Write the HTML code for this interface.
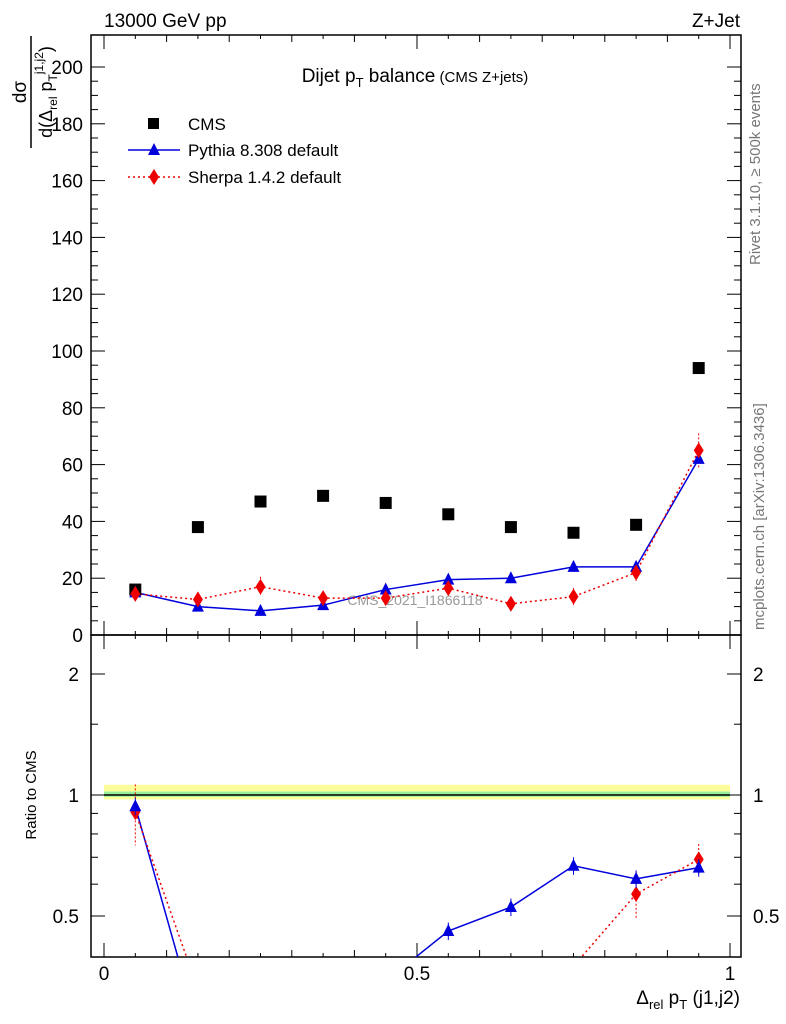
<!DOCTYPE html>
<html><head><meta charset="utf-8"><style>
html,body{margin:0;background:#fff;overflow:hidden}
svg{display:block}
svg text{font-family:"Liberation Sans",sans-serif}
</style></head><body>
<svg id="c" width="786" height="1024" viewBox="0 0 786 1024" xmlns="http://www.w3.org/2000/svg">
<text x="104" y="27" font-size="19">13000 GeV pp</text>
<text x="740" y="27" font-size="19" text-anchor="end">Z+Jet</text>
<text x="415" y="82" font-size="19" text-anchor="middle">Dijet p<tspan font-size="13" dy="5">T</tspan><tspan dy="-5"> balance</tspan><tspan font-size="15"> (CMS Z+jets)</tspan></text>
<g transform="translate(34,92) rotate(-90)">
<text x="0" y="-8" font-size="19" text-anchor="middle">dσ</text>
<line x1="-56" y1="-3" x2="56" y2="-3" stroke="#000" stroke-width="1.5"/>
<text x="0" y="18" font-size="18" text-anchor="middle">d(Δ<tspan font-size="12" dy="5">rel</tspan><tspan dy="-5"> p</tspan><tspan font-size="12" dy="5">T</tspan><tspan font-size="12" dy="-14">j1,j2</tspan><tspan dy="9">)</tspan></text>
</g>
<text transform="translate(760,265) rotate(-90)" font-size="15" fill="#777">Rivet 3.1.10, ≥ 500k events</text>
<text transform="translate(764,630) rotate(-90)" font-size="15" fill="#777">mcplots.cern.ch [arXiv:1306.3436]</text>
<text x="415" y="605" font-size="14" fill="#999" text-anchor="middle">CMS_2021_I1866118</text>
<text transform="translate(36,795) rotate(-90)" font-size="15" text-anchor="middle">Ratio to CMS</text>
<text x="740" y="1004" font-size="19" text-anchor="end">Δ<tspan font-size="13" dy="5">rel</tspan><tspan dy="-5"> p</tspan><tspan font-size="13" dy="5">T</tspan><tspan dy="-5"> (j1,j2)</tspan></text>
<g id="g"></g>
</svg>
<script>
const xCenters=[0.05,0.15,0.25,0.35,0.45,0.55,0.65,0.75,0.85,0.95];
const cmsVals=[16,38,47,49,46.5,42.5,38,36,38.8,94];
const pythiaVals=[15,10,8.5,10.5,16,19.5,20,24,24,62];
const sherpaVals=[14.5,12.5,17,13,13,16.5,11,13.5,22,65];
const sherpaErr=[2.5,2.5,3.5,2.5,2,2.5,2.5,3,3,6];
const yTicks=[0,20,40,60,80,100,120,140,160,180,200];
const rTicks=[0.5,1,2];
const xTicks=[0,0.5,1];
const NS="http://www.w3.org/2000/svg",g=document.getElementById('g');
const L=91,R=741,T=35,MB=635,RB=957;
const X=v=>104+v*626, Y=v=>635-v*2.84, RY=v=>795-121*Math.log2(v);
const RMIN=0.395,RMAX=2.5;
function el(t,a,p){const e=document.createElementNS(NS,t);for(const k in a)e.setAttribute(k,a[k]);(p||g).appendChild(e);return e;}
const clip=el('clipPath',{id:'rc'});el('rect',{x:L,y:MB,width:R-L,height:RB-MB},clip);
const b1=el('rect',{x:X(0),y:RY(1.06),width:X(1)-X(0),height:RY(0.975)-RY(1.06),fill:'#ffff99'});


const b2=el('rect',{x:X(0),y:RY(1.02),width:X(1)-X(0),height:RY(0.99)-RY(1.02),fill:'#99ee99'});


el('line',{x1:X(0),x2:X(1),y1:RY(1),y2:RY(1),stroke:'#000','stroke-width':1.5});
const f1=el('rect',{x:L,y:T,width:R-L,height:MB-T,fill:'none',stroke:'#000','stroke-width':1.5});


const f2=el('rect',{x:L,y:MB,width:R-L,height:RB-MB,fill:'none',stroke:'#000','stroke-width':1.5});


yTicks.forEach(v=>{const y=Y(v);el('line',{x1:L,x2:L+14,y1:y,y2:y,stroke:'#000'});el('line',{x1:R,x2:R-14,y1:y,y2:y,stroke:'#000'});
 const t=el('text',{x:L-8,y:y+7,'font-size':19,'text-anchor':'end'});t.textContent=v;
 
 
 if(v<200){for(let k=1;k<4;k++){const yy=Y(v+5*k);el('line',{x1:L,x2:L+7,y1:yy,y2:yy,stroke:'#000'});el('line',{x1:R,x2:R-7,y1:yy,y2:yy,stroke:'#000'});}}});
rTicks.forEach(v=>{const y=RY(v);el('line',{x1:L,x2:L+14,y1:y,y2:y,stroke:'#000'});el('line',{x1:R,x2:R-14,y1:y,y2:y,stroke:'#000'});
 const t=el('text',{x:L-12,y:y+7,'font-size':19,'text-anchor':'end'});t.textContent=v;
 
 
 const t2=el('text',{x:R+12,y:y+7,'font-size':19});t2.textContent=v;
 
 });
[0.6,0.7,0.8,0.9,1.5].forEach(v=>{const y=RY(v);el('line',{x1:L,x2:L+7,y1:y,y2:y,stroke:'#000'});el('line',{x1:R,x2:R-7,y1:y,y2:y,stroke:'#000'});});
for(let i=0;i<=20;i++){const v=i*0.05,x=X(v),big=i%10==0,s=big?14:(i%2==0?7:4);
 [[T,1],[MB,-1],[MB,1],[RB,-1]].forEach(([y0,d])=>el('line',{x1:x,x2:x,y1:y0,y2:y0+d*s,stroke:'#000'}));}
xTicks.forEach(v=>{const t=el('text',{x:X(v),y:980,'font-size':19,'text-anchor':'middle'});t.textContent=v;
 
 });
function tri(x,y,c,p){return el('polygon',{points:`${x},${y-7} ${x-6},${y+5} ${x+6},${y+5}`,fill:c},p);}
function dia(x,y,c,p){return el('polygon',{points:`${x},${y-8} ${x+5},${y} ${x},${y+8} ${x-5},${y}`,fill:c},p);}
const pp=el('polyline',{points:xCenters.map((v,i)=>X(v)+','+Y(pythiaVals[i])).join(' '),fill:'none',stroke:'#0000dd','stroke-width':1.5});


const sp=el('polyline',{points:xCenters.map((v,i)=>X(v)+','+Y(sherpaVals[i])).join(' '),fill:'none',stroke:'#ee0000','stroke-width':1.5,'stroke-dasharray':'2,3'});


xCenters.forEach((v,i)=>{const x=X(v);
 el('line',{x1:x,x2:x,y1:Y(sherpaVals[i]+sherpaErr[i]),y2:Y(sherpaVals[i]-sherpaErr[i]),stroke:'#ee0000','stroke-dasharray':'2,2'});
 const m=el('rect',{x:x-6,y:Y(cmsVals[i])-6,width:12,height:12,fill:'#000'});
 
 
 const p=tri(x,Y(pythiaVals[i]),'#0000dd');
 
 
 const s=dia(x,Y(sherpaVals[i]),'#ee0000');
 
 });
const rg=el('g',{'clip-path':'url(#rc)'});
const pr=el('polyline',{points:xCenters.map((v,i)=>X(v)+','+RY(pythiaVals[i]/cmsVals[i])).join(' '),fill:'none',stroke:'#0000dd','stroke-width':1.5},rg);


const sr=el('polyline',{points:xCenters.map((v,i)=>X(v)+','+RY(sherpaVals[i]/cmsVals[i])).join(' '),fill:'none',stroke:'#ee0000','stroke-width':1.5,'stroke-dasharray':'2,3'},rg);


xCenters.forEach((v,i)=>{const x=X(v),rp=pythiaVals[i]/cmsVals[i],rs=sherpaVals[i]/cmsVals[i];
 if(rs>RMIN&&rs<RMAX){
 el('line',{x1:x,x2:x,y1:RY(rs*(1+sherpaErr[i]/sherpaVals[i])),y2:RY(rs*(1-sherpaErr[i]/sherpaVals[i])),stroke:'#ee0000','stroke-dasharray':'2,2'},rg);
 const s=dia(x,RY(rs),'#ee0000',rg);
 
 }
 if(rp>RMIN&&rp<RMAX){
 el('line',{x1:x,x2:x,y1:RY(rp*1.05),y2:RY(rp*0.95),stroke:'#0000dd'},rg);
 const p=tri(x,RY(rp),'#0000dd',rg);
 
 }});
const lg=el('g',{});


el('rect',{x:148,y:118,width:11,height:11,fill:'#000'},lg);
el('text',{x:188,y:130,'font-size':17},lg).textContent='CMS';
el('line',{x1:128,x2:180,y1:150,y2:150,stroke:'#0000dd','stroke-width':1.5},lg);tri(154,150,'#0000dd',lg);
el('text',{x:188,y:156,'font-size':17},lg).textContent='Pythia 8.308 default';
el('line',{x1:128,x2:180,y1:177,y2:177,stroke:'#ee0000','stroke-width':1.5,'stroke-dasharray':'2,3'},lg);dia(154,177,'#ee0000',lg);
el('text',{x:188,y:183,'font-size':17},lg).textContent='Sherpa 1.4.2 default';
</script>
</body></html>
